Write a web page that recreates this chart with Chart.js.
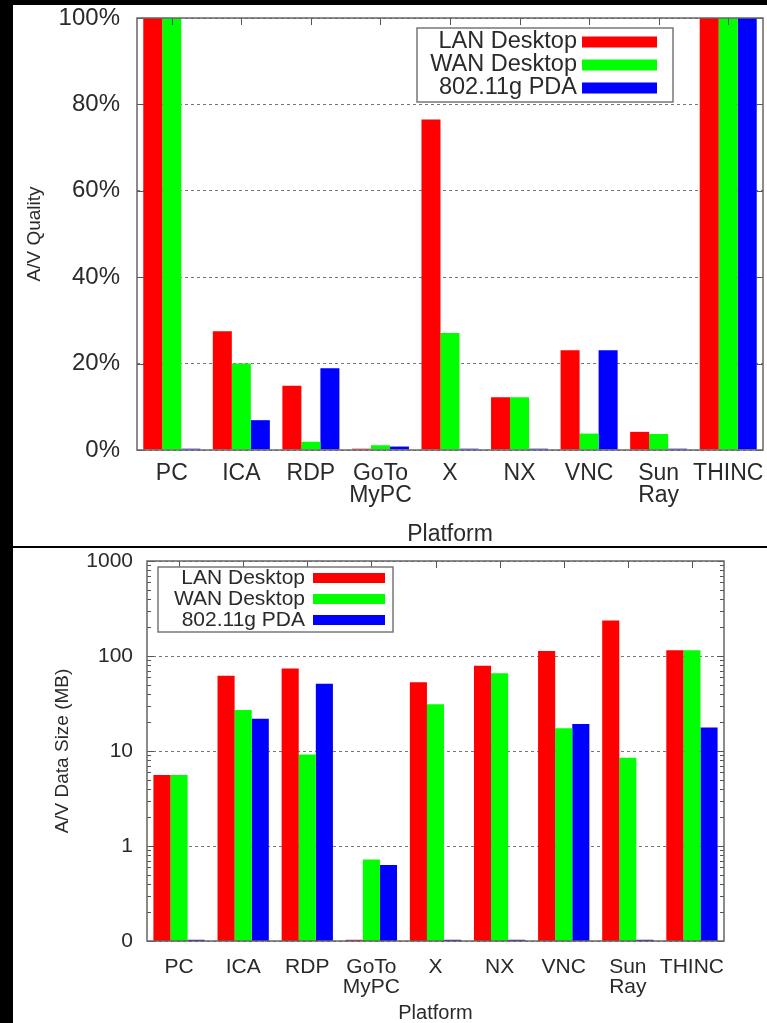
<!DOCTYPE html>
<html>
<head>
<meta charset="utf-8">
<script src="https://cdn.jsdelivr.net/npm/chart.js@4.4.1/dist/chart.umd.min.js"></script>
<style>
  html, body { margin: 0; padding: 0; background: #000; }
  body { width: 767px; height: 1023px; position: relative; overflow: hidden; }
  .panel { position: absolute; left: 13px; background: #fff; }
  #p1 { top: 5px; width: 754px; height: 541px; }
  #p2 { top: 548px; width: 754px; height: 475px; }
</style>
</head>
<body>
<div class="panel" id="p1"><canvas id="quality" width="754" height="541"></canvas></div>
<div class="panel" id="p2"><canvas id="size" width="754" height="475"></canvas></div>
<script>
// categories and series
const platforms = ['PC', 'ICA', 'RDP', ['GoTo', 'MyPC'], 'X', 'NX', 'VNC', ['Sun', 'Ray'], 'THINC'];
const seriesNames = ['LAN Desktop', 'WAN Desktop', '802.11g PDA'];
const seriesColors = ['#ff0000', '#00ff00', '#0000ff'];

// A/V quality (%)
const qualityLan = [100, 27.5, 14.9, 0.3, 76.5, 12.2, 23.1, 4.2, 100];
const qualityWan = [100, 20.0, 1.9, 1.1, 27.1, 12.2, 3.8, 3.7, 100];
const qualityPda = [0.3, 6.9, 18.9, 0.8, 0.3, 0.3, 23.1, 0.3, 100];
const qualityTicks = [0, 20, 40, 60, 80, 100];
const qualityTickLabels = ['0%', '20%', '40%', '60%', '80%', '100%'];

// A/V data size (MB), log scale
const sizeLan = [5.6, 62, 74, 0.103, 53, 79, 113, 236, 115];
const sizeWan = [5.6, 27, 9.2, 0.72, 31, 66, 17.4, 8.5, 115];
const sizePda = [0.103, 21.8, 51, 0.63, 0.103, 0.103, 19.2, 0.103, 17.7];
const sizeTicks = [0.1, 1, 10, 100, 1000];
const sizeTickLabels = ['0', '1', '10', '100', '1000'];

const FONT = '"Liberation Sans", Arial, Helvetica, sans-serif';
const TEXT = '#2a2a2a';

// gnuplot style frame with inward tics
const frame = {
  id: 'frame',
  afterDatasetsDraw(chart, args, o) {
    const { ctx, chartArea: a, scales: { x, y } } = chart;
    ctx.save();
    ctx.strokeStyle = '#555';
    ctx.lineWidth = 1;
    ctx.beginPath();
    x.ticks.forEach((t, i) => {
      const px = Math.round(x.getPixelForTick(i)) + 0.5;
      ctx.moveTo(px, a.top); ctx.lineTo(px, a.top + o.major);
    });
    y.ticks.forEach(t => {
      const py = Math.round(y.getPixelForValue(t.value)) + 0.5;
      ctx.moveTo(a.left, py); ctx.lineTo(a.left + o.major, py);
      ctx.moveTo(a.right, py); ctx.lineTo(a.right - o.major, py);
    });
    if (o.logMinor) {
      for (let d = y.min; d < y.max; d *= 10) {
        for (let m = 2; m < 10; m++) {
          const py = Math.round(y.getPixelForValue(d * m)) + 0.5;
          ctx.moveTo(a.left, py); ctx.lineTo(a.left + o.minor, py);
          ctx.moveTo(a.right, py); ctx.lineTo(a.right - o.minor, py);
        }
      }
    }
    ctx.stroke();
    ctx.lineWidth = 1.5;
    ctx.strokeStyle = '#666';
    ctx.strokeRect(a.left, a.top, a.width, a.height);
    ctx.restore();
  }
};

// boxed key, text right-aligned and sample to its right
const boxLegend = {
  id: 'boxLegend',
  afterDraw(chart, args, o) {
    const ctx = chart.ctx;
    ctx.save();
    ctx.fillStyle = '#fff';
    ctx.fillRect(o.box[0], o.box[1], o.box[2], o.box[3]);
    ctx.strokeStyle = '#777';
    ctx.lineWidth = 1.5;
    ctx.strokeRect(o.box[0], o.box[1], o.box[2], o.box[3]);
    ctx.font = o.size + 'px ' + FONT;
    ctx.textAlign = 'right';
    ctx.textBaseline = 'middle';
    chart.data.datasets.forEach((ds, i) => {
      const cy = o.rowY + i * o.rowGap;
      ctx.fillStyle = TEXT;
      ctx.fillText(ds.label, o.textRight, cy);
      ctx.fillStyle = ds.backgroundColor;
      ctx.fillRect(o.swatchX, cy - o.swatchH / 2, o.swatchW, o.swatchH);
    });
    ctx.restore();
  }
};

function datasets(series, catPct) {
  return series.map((d, i) => ({
    label: seriesNames[i],
    data: d,
    backgroundColor: seriesColors[i],
    borderWidth: 0,
    barPercentage: 1,
    categoryPercentage: catPct
  }));
}

// top: A/V quality
new Chart(document.getElementById('quality'), {
  type: 'bar',
  data: { labels: platforms, datasets: datasets([qualityLan, qualityWan, qualityPda], 0.82) },
  options: {
    responsive: false,
    animation: false,
    layout: { padding: { top: 13, right: 4, left: 0, bottom: 0 } },
    plugins: {
      legend: { display: false },
      tooltip: { enabled: false },
      frame: { major: 7 },
      boxLegend: { box: [404, 23, 256, 74], size: 23.5, rowY: 37, rowGap: 23, textRight: 564, swatchX: 569, swatchW: 75, swatchH: 11 }
    },
    scales: {
      x: {
        grid: { display: false },
        border: { display: false },
        ticks: { autoSkip: false, maxRotation: 0, padding: 5, color: TEXT, font: { family: FONT, size: 23, lineHeight: 0.96 } },
        title: { display: true, text: 'Platform', color: TEXT, font: { family: FONT, size: 23, lineHeight: 1.0 }, padding: { top: 0, bottom: 0 } },
        afterFit(s) { s.height = 96; s.paddingLeft = 0; s.paddingRight = 0; }
      },
      y: {
        min: 0, max: 100,
        afterBuildTicks(s) { s.ticks = qualityTicks.map(v => ({ value: v })); },
        ticks: { padding: 17, color: TEXT, font: { family: FONT, size: 24 }, callback: (v, i) => qualityTickLabels[i] },
        grid: { color: '#777', drawTicks: false },
        border: { display: false, dash: [3, 3] },
        title: { display: true, text: 'A/V Quality', color: TEXT, font: { family: FONT, size: 19, lineHeight: 1.0 }, padding: { top: 12, bottom: 0 } },
        afterFit(s) { s.width = 124; s.paddingTop = 0; s.paddingBottom = 0; }
      }
    }
  },
  plugins: [frame, boxLegend]
});

// bottom: A/V data size
new Chart(document.getElementById('size'), {
  type: 'bar',
  data: { labels: platforms, datasets: datasets([sizeLan, sizeWan, sizePda], 0.8) },
  options: {
    responsive: false,
    animation: false,
    layout: { padding: { top: 13, right: 43, left: 0, bottom: 0 } },
    plugins: {
      legend: { display: false },
      tooltip: { enabled: false },
      frame: { major: 7, minor: 4, logMinor: true },
      boxLegend: { box: [145, 19, 235, 65], size: 21, rowY: 30, rowGap: 21, textRight: 292, swatchX: 300, swatchW: 72, swatchH: 10 }
    },
    scales: {
      x: {
        grid: { display: false },
        border: { display: false },
        ticks: { autoSkip: false, maxRotation: 0, padding: 8, color: TEXT, font: { family: FONT, size: 21, lineHeight: 0.95 } },
        title: { display: true, text: 'Platform', color: TEXT, font: { family: FONT, size: 20, lineHeight: 1.0 }, padding: { top: 0, bottom: 0 } },
        afterFit(s) { s.height = 82; s.paddingLeft = 0; s.paddingRight = 0; }
      },
      y: {
        type: 'logarithmic',
        min: 0.1, max: 1000,
        afterBuildTicks(s) { s.ticks = sizeTicks.map(v => ({ value: v })); },
        ticks: { padding: 14, color: TEXT, font: { family: FONT, size: 21 }, callback: (v, i) => sizeTickLabels[i] },
        grid: { color: '#777', drawTicks: false },
        border: { display: false, dash: [3, 3] },
        title: { display: true, text: 'A/V Data Size (MB)', color: TEXT, font: { family: FONT, size: 19, lineHeight: 1.0 }, padding: { top: 40, bottom: 0 } },
        afterFit(s) { s.width = 134; s.paddingTop = 0; s.paddingBottom = 0; }
      }
    }
  },
  plugins: [frame, boxLegend]
});
</script>
</body>
</html>
